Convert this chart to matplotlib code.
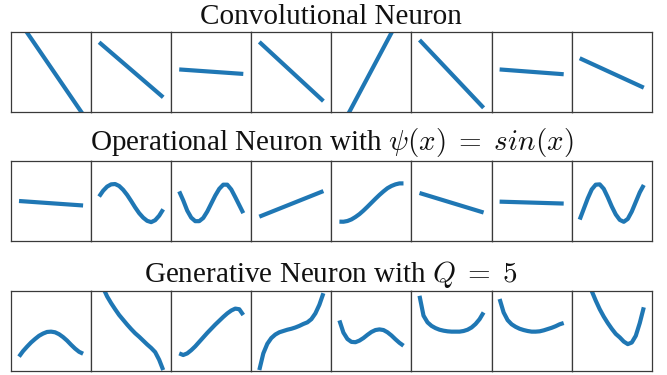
import numpy as np
import matplotlib
matplotlib.use("Agg")
import matplotlib.pyplot as plt

plt.rcParams['font.family'] = ['Liberation Serif', 'DejaVu Serif']
plt.rcParams['mathtext.fontset'] = 'cm'

# ---- data ----
titles = ["Convolutional Neuron",
          r"Operational Neuron with $\psi(x) \;=\; sin(x)$",
          r"Generative Neuron with $Q \;=\; 5$"]

x_line = [-1.0, 1.0]
x_curve = [-1.0, -0.875, -0.75, -0.625, -0.5, -0.375, -0.25, -0.125, 0.0,
           0.125, 0.25, 0.375, 0.5, 0.625, 0.75, 0.875, 1.0]

# Convolutional neurons: linear responses (value at x=-1, value at x=1)
conv_1 = [1.60, -1.33]
conv_2 = [0.93, -0.79]
conv_3 = [0.08, -0.06]
conv_4 = [0.94, -0.91]
conv_5 = [-1.83, 1.93]
conv_6 = [1.00, -1.12]
conv_7 = [0.08, -0.07]
conv_8 = [0.43, -0.49]

# Operational neurons (sin nodal operator)
op_1 = [0.00, -0.14]
op_2 = [0.14, 0.32, 0.45, 0.52, 0.53, 0.47, 0.35, 0.19, 0.00,
        -0.20, -0.38, -0.52, -0.62, -0.66, -0.60, -0.46, -0.26]
op_3 = [0.30, 0.02, -0.30, -0.52, -0.63, -0.63, -0.53, -0.33, -0.08,
        0.17, 0.38, 0.51, 0.51, 0.36, 0.12, -0.13, -0.38]
op_4 = [-0.49, 0.31]
op_5 = [-0.645, -0.648, -0.625, -0.576, -0.50, -0.41, -0.30, -0.18, -0.055,
        0.07, 0.19, 0.30, 0.40, 0.47, 0.52, 0.55, 0.55]
op_6 = [0.25, -0.36]
op_7 = [-0.02, -0.08]
op_8 = [-0.58, -0.25, 0.08, 0.36, 0.51, 0.52, 0.38, 0.12, -0.17,
        -0.42, -0.59, -0.65, -0.56, -0.33, -0.03, 0.27, 0.50]

# Generative neurons (Q = 5)
gen_1 = [-0.80, -0.63, -0.49, -0.36, -0.25, -0.15, -0.08, -0.03, -0.02,
         -0.04, -0.10, -0.19, -0.30, -0.43, -0.55, -0.65, -0.71]
gen_2 = [1.60, 1.35, 1.08, 0.87, 0.68, 0.50, 0.35, 0.20, 0.06,
         -0.07, -0.18, -0.30, -0.42, -0.53, -0.66, -0.90, -1.22]
gen_3 = [-0.70, -0.75, -0.70, -0.60, -0.48, -0.34, -0.20, -0.06, 0.07,
         0.20, 0.32, 0.44, 0.55, 0.64, 0.70, 0.68, 0.50]
gen_4 = [-1.22, -0.70, -0.40, -0.22, -0.11, -0.04, 0.00, 0.04, 0.07,
         0.11, 0.16, 0.22, 0.27, 0.37, 0.55, 0.82, 1.18]
gen_5 = [0.33, -0.05, -0.25, -0.34, -0.35, -0.30, -0.22, -0.12, -0.03,
         0.03, 0.05, 0.03, -0.04, -0.14, -0.26, -0.37, -0.46]
gen_6 = [1.10, 0.48, 0.27, 0.16, 0.09, 0.04, 0.01, -0.01, -0.02,
         -0.02, -0.02, 0.00, 0.04, 0.11, 0.22, 0.37, 0.58]
gen_7 = [1.00, 0.58, 0.34, 0.21, 0.13, 0.07, 0.03, 0.00, -0.02,
         -0.02, -0.01, 0.02, 0.06, 0.10, 0.15, 0.21, 0.25]
gen_8 = [2.30, 1.95, 1.62, 1.25, 0.95, 0.68, 0.45, 0.25, 0.07,
         -0.09, -0.20, -0.33, -0.41, -0.36, -0.15, 0.25, 0.74]

rows = [
    [conv_1, conv_2, conv_3, conv_4, conv_5, conv_6, conv_7, conv_8],
    [op_1, op_2, op_3, op_4, op_5, op_6, op_7, op_8],
    [gen_1, gen_2, gen_3, gen_4, gen_5, gen_6, gen_7, gen_8],
]

# ---- layout ----
W, H = 667, 375
fig = plt.figure(figsize=(W / 100, H / 100), dpi=100)
left_px = 11.0
panel_w = 80.1
panel_tops = [32, 161, 291]
panel_h = 80
title_base = [23.5, 149.5, 282.5]
color = "#1f77b4"

for r, row in enumerate(rows):
    for c, ys in enumerate(row):
        x0 = left_px + c * panel_w
        ax = fig.add_axes([x0 / W, 1 - (panel_tops[r] + panel_h) / H,
                           panel_w / W, panel_h / H])
        xs = x_line if len(ys) == 2 else x_curve
        ax.plot(xs, ys, color=color, lw=3.0, solid_capstyle='butt')
        ax.set_xlim(-1.25, 1.25)
        ax.set_ylim(-1.25, 1.25)
        ax.set_xticks([])
        ax.set_yticks([])
        for s in ax.spines.values():
            s.set_color("#3a3a3a")
            s.set_linewidth(0.9)
    cx = (left_px + 4 * panel_w) / W
    fig.text(cx, 1 - title_base[r] / H, titles[r], ha='center',
             va='baseline', fontsize=21, color='#111111')

fig.savefig("out.png", dpi=100)
